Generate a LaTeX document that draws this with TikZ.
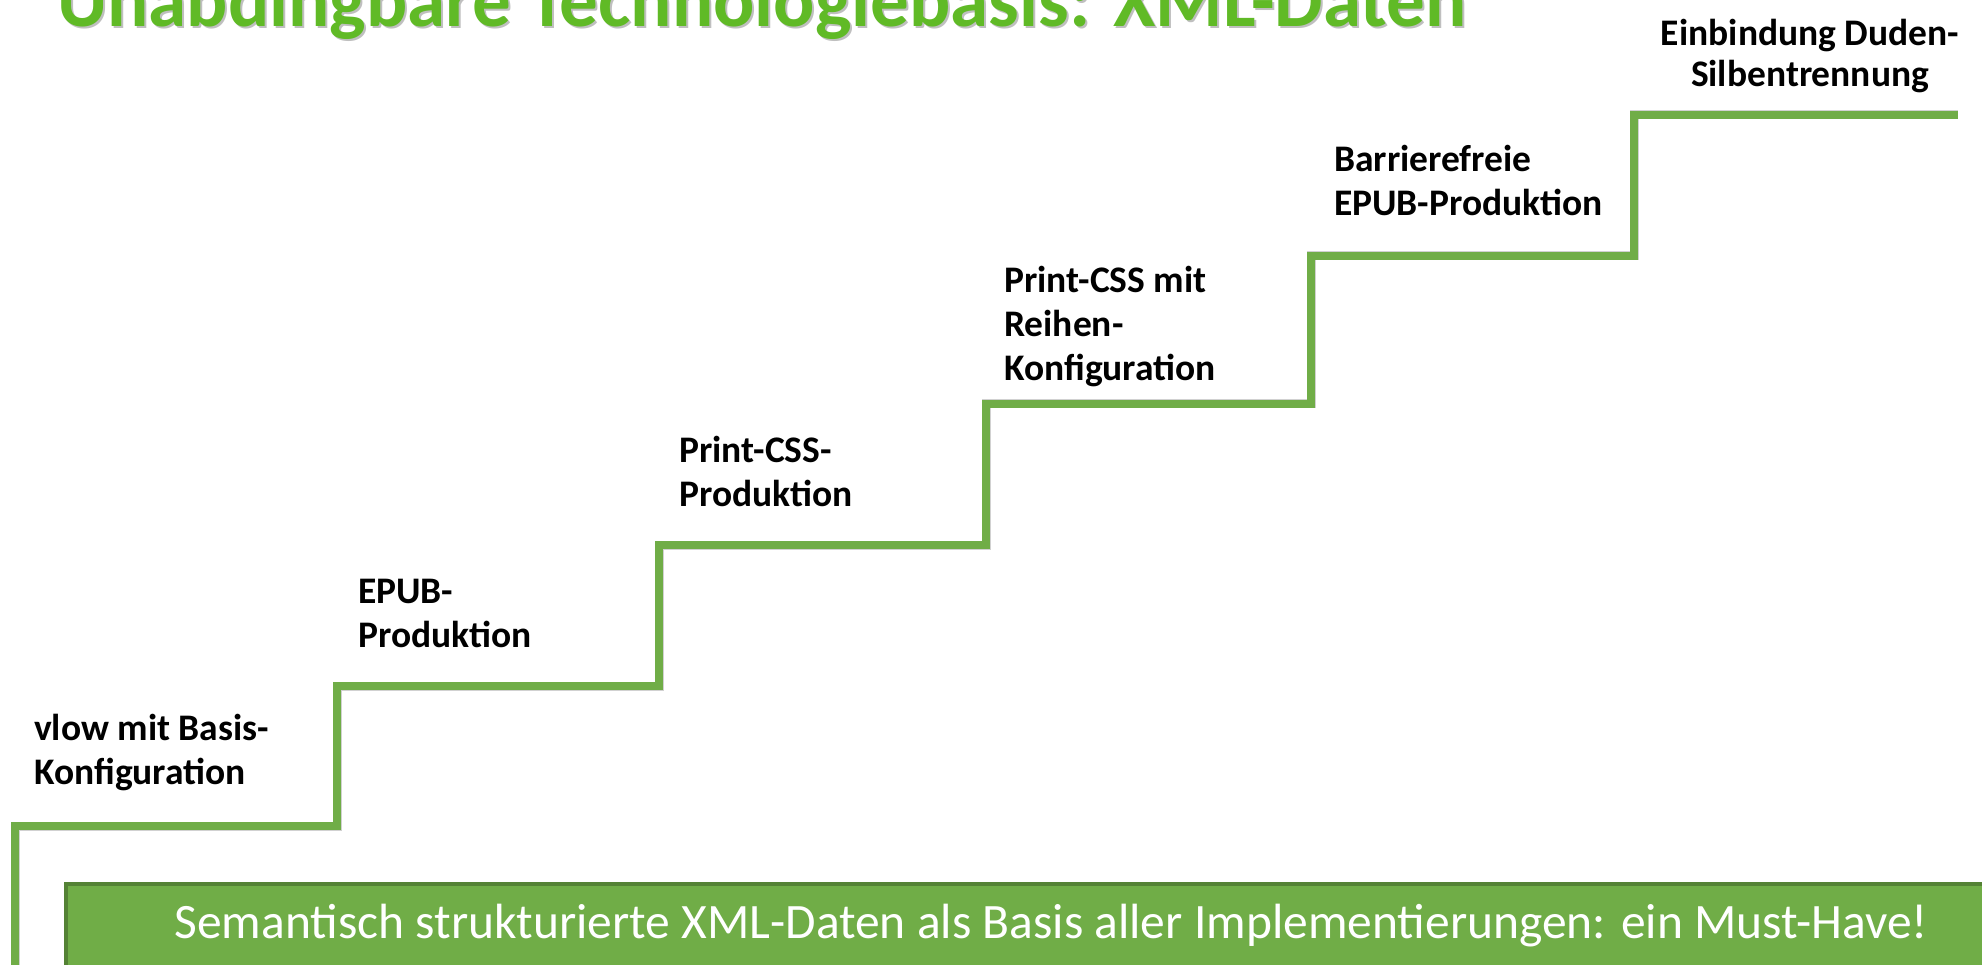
\documentclass[tikz,border=0pt]{standalone}
\usepackage{fontspec}
\setmainfont{Carlito}
\definecolor{stair}{RGB}{112,173,71}
\definecolor{boxborder}{RGB}{84,130,53}
\definecolor{titlegreen}{RGB}{96,186,38}
\begin{document}
\begin{tikzpicture}[x=1pt,y=-1pt,
  stairline/.style={draw=stair,line width=7.5pt,line join=miter},
  stairshadow/.style={draw=black,opacity=0.18,line width=9pt},
  label/.style={anchor=base west,align=left,inner sep=0pt,font=\bfseries\fontsize{37.5}{44}\selectfont},
  basebox/.style={fill=stair,draw=boxborder,line width=3.5pt,inner sep=0pt,anchor=north west,
    minimum width=1971pt,minimum height=84pt,text=white,font=\fontsize{49.5}{58}\selectfont},
  titletext/.style={anchor=base west,inner sep=0pt,text=titlegreen,font=\bfseries\fontsize{77}{90}\selectfont}]
\useasboundingbox (0,0) rectangle (1982,965);
% title
\node[titletext,text=black,opacity=0.25] at (59,29) {Unabdingbare Technologiebasis: XML-Daten};
\node[titletext] (title) at (57,27) {Unabdingbare Technologiebasis: XML-Daten};
% staircase
\coordinate (p0) at (15,980);
\coordinate (p1) at (15,826);
\coordinate (p2) at (337,826);
\coordinate (p3) at (337,686);
\coordinate (p4) at (659,686);
\coordinate (p5) at (659,545);
\coordinate (p6) at (986,545);
\coordinate (p7) at (986,404);
\coordinate (p8) at (1311,404);
\coordinate (p9) at (1311,256);
\coordinate (p10) at (1634,256);
\coordinate (p11) at (1634,115);
\coordinate (p12) at (1958,115);
\begin{scope}[shift={(3,4)}]
\draw[stairshadow] (p0) -- (p1) -- (p2) -- (p3) -- (p4) -- (p5) -- (p6) -- (p7) -- (p8) -- (p9) -- (p10) -- (p11) -- (p12);
\end{scope}
\draw[stairline] (p0) -- (p1) -- (p2) -- (p3) -- (p4) -- (p5) -- (p6) -- (p7) -- (p8) -- (p9) -- (p10) -- (p11) -- (p12);
% labels (anchor = baseline of the last line)
\node[label] (l1) at (34,784) {vlow mit Basis-\\Konfiguration};
\node[label] (l2) at (358,647) {EPUB-\\Produktion};
\node[label] (l3) at (679,507) {Print-CSS-\\Produktion};
\node[label] (l4) at (1004,381) {Print-CSS mit\\Reihen-\\Konfiguration};
\node[label] (l5) at (1334,216) {Barrierefreie\\EPUB-Produktion};
\node[label,anchor=base,align=center,font=\bfseries\fontsize{37.5}{41}\selectfont] (l6) at (1810,87) {Einbindung Duden-\\Silbentrennung};
% base box
\node[basebox] (base) at (64,882) {Semantisch strukturierte XML-Daten als Basis aller Implementierungen: ein Must-Have!};
\end{tikzpicture}
\end{document}
